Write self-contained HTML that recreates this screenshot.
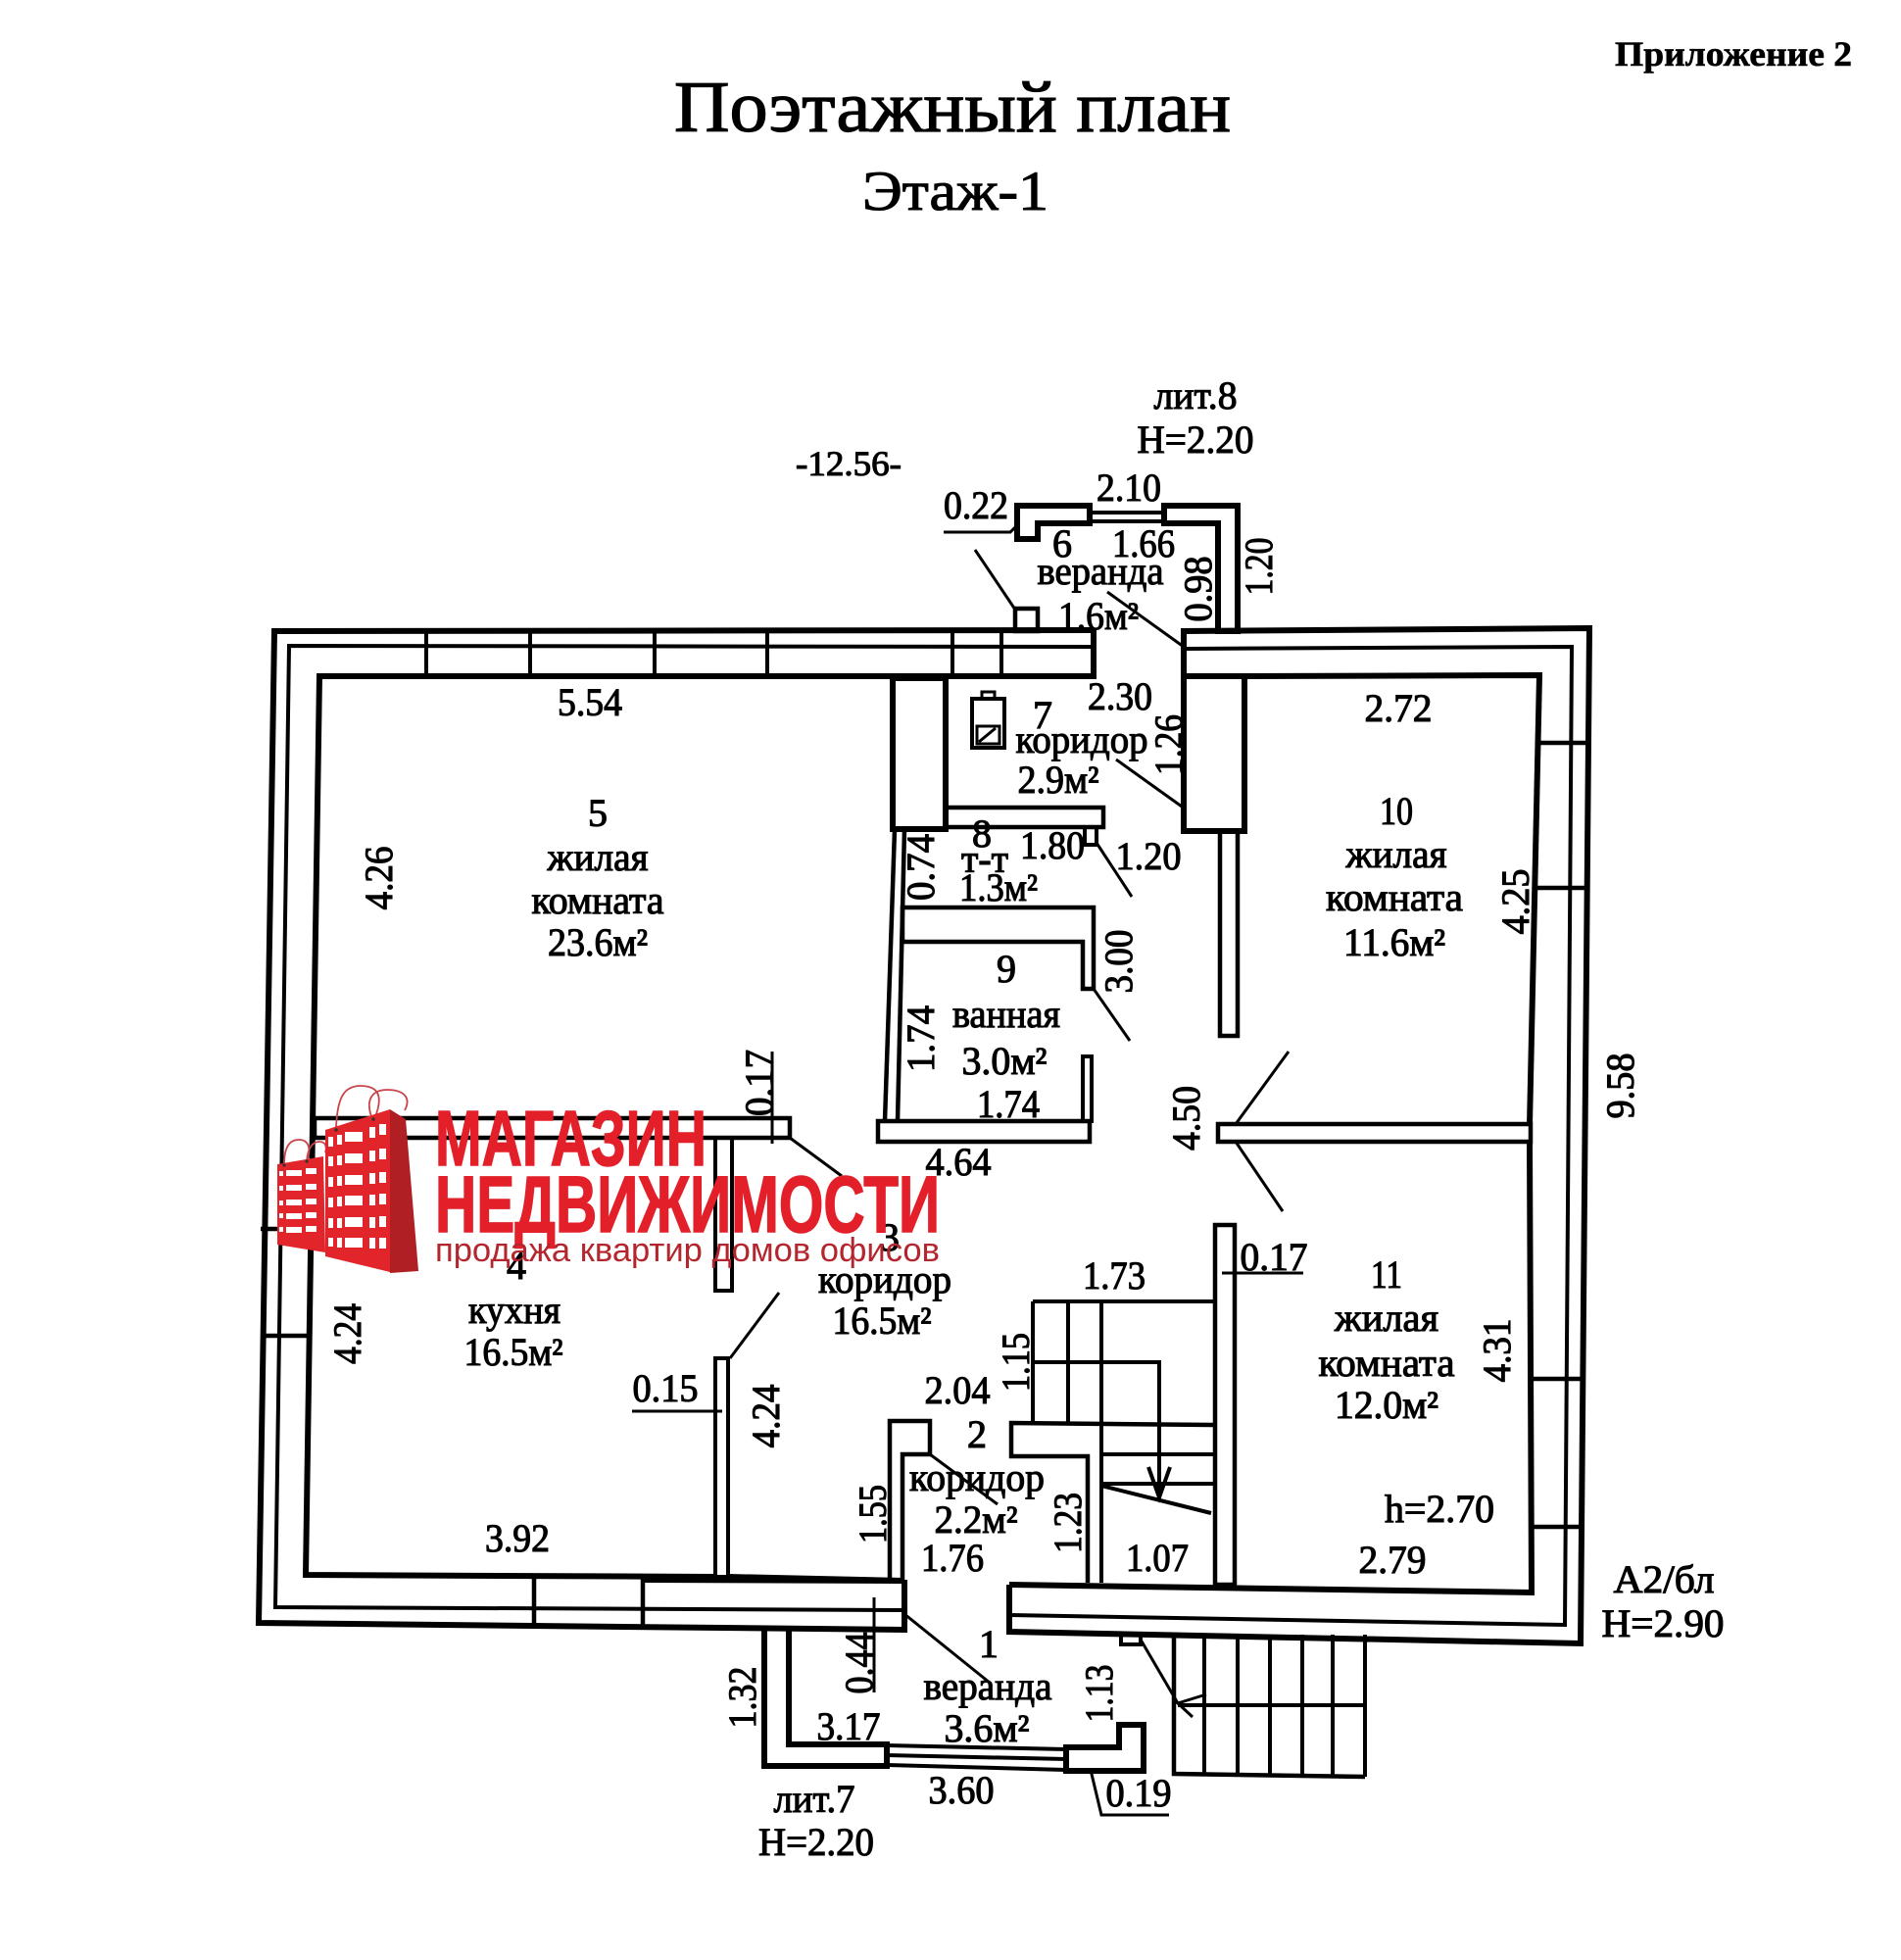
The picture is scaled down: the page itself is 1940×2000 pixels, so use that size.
<!DOCTYPE html>
<html><head><meta charset="utf-8"><style>
html,body{margin:0;padding:0;background:#fff}
svg{display:block}
.t{font-family:"Liberation Serif","Noto Serif CJK SC",serif;font-size:40px;fill:#000;stroke:#000;stroke-width:1.1px}
.w5{stroke:#000;stroke-width:6;fill:none;stroke-linejoin:miter}
.w4{stroke:#000;stroke-width:4.5;fill:none}
.w3{stroke:#000;stroke-width:4;fill:none}
.th{stroke:#000;stroke-width:3;fill:none}
</style></head><body>
<svg width="1940" height="2000" viewBox="0 0 1940 2000" xmlns="http://www.w3.org/2000/svg">
<rect width="1940" height="2000" fill="#fff"/>

<!-- Titles -->
<text class="t" x="1769" y="67" text-anchor="middle" font-weight="bold" style="font-size:36px;stroke-width:.6px" textLength="242" lengthAdjust="spacingAndGlyphs">Приложение 2</text>
<text class="t" x="972" y="134" text-anchor="middle" style="font-size:74px;stroke-width:1.2px" textLength="568" lengthAdjust="spacingAndGlyphs">Поэтажный план</text>
<text class="t" x="975" y="214" text-anchor="middle" style="font-size:57px;stroke-width:1.1px" textLength="190" lengthAdjust="spacingAndGlyphs">Этаж-1</text>
<text class="t" x="866" y="485" text-anchor="middle" style="font-size:36px" textLength="108" lengthAdjust="spacingAndGlyphs">-12.56-</text>

<!-- Outer walls -->
<path class="w5" d="M1116,643 L280,644 L264,1656 L923,1663 L923,1612"/>
<path class="w5" d="M1208,848 L1208,644 L1622,641 L1613,1677 L1030,1665 L1030,1617"/>
<path class="w3" d="M1116,660 L295,659 L281,1640 L923,1643"/>
<path class="w3" d="M1208,662 L1604,660 L1597,1658 L1030,1648"/>
<path class="w5" d="M1116,642 L1116,690 L326,690 L312,1607 L730,1609"/>
<path class="w5" d="M743,1609 L922,1613"/>
<path class="w5" d="M1270,690 L1571,689 L1561,1148"/>
<path class="w5" d="M1561,1165 L1563,1625 L1030,1617"/>
<!-- top wall dividers -->
<path class="w3" d="M435,642V692 M541,642V692 M668,642V692 M783,642V692 M972,642V692 M1022,642V692"/>
<!-- right wall windows -->
<path class="w4" d="M1571,758H1620 M1569,906H1619 M1562,1407H1616 M1563,1558H1615"/>
<!-- left wall window -->
<path class="w4" d="M266,1254H318 M266,1363H317"/>
<!-- bottom wall dividers -->
<path class="w4" d="M545,1608V1660 M656,1610V1661"/>
<path class="w5" d="M656,1612 L922,1613"/>

<!-- Interior partitions -->
<rect class="w5" x="911" y="692" width="54" height="154"/>
<rect class="w4" x="965" y="824" width="161" height="20"/>
<rect class="w3" x="1107" y="844" width="12" height="18"/>
<path class="w4" d="M913,846 L903,1144 M923,846 L916,1144"/>
<polygon class="w4" points="921,926 1116,926 1116,1009 1105,1009 1105,961 921,961"/>
<rect class="w3" x="1105" y="1078" width="9" height="66"/>
<rect class="w4" x="896" y="1144" width="216" height="21"/>
<rect class="w5" x="1208" y="690" width="62" height="158"/>
<rect class="w4" x="1245" y="848" width="18" height="209"/>
<rect class="w4" x="1243" y="1147" width="319" height="18"/>
<rect class="w4" x="1240" y="1250" width="20" height="367"/>
<rect class="w4" x="321" y="1141" width="485" height="20"/>
<rect class="w3" x="730" y="1161" width="17" height="156"/>
<rect class="w3" x="730" y="1386" width="13" height="223"/>
<polygon class="w4" points="908,1450 949,1450 949,1484 921,1484 921,1613 908,1613"/>

<!-- Stairs -->
<path class="w3" d="M1054,1328 H1238 M1054,1328 V1452 M1090,1328 V1452 M1124,1328 V1615"/>
<path class="w3" d="M1054,1390 H1183 V1528"/>
<path class="w3" d="M1172,1497 L1183,1528 L1194,1497"/>
<path class="w4" d="M1238,1454 L1032,1452 L1032,1486 L1110,1486 L1110,1615"/>
<path class="w3" d="M1124,1484 H1238 M1124,1514 H1238 M1124,1516 L1236,1544"/>

<!-- Veranda 6 (top) -->
<polygon class="w5" points="1038,516 1112,516 1112,534 1059,534 1059,550 1038,550"/>
<polygon class="w5" points="1188,516 1263,516 1263,644 1243,644 1243,534 1188,534"/>
<path class="w3" d="M1112,523 H1188 M1112,532 H1188"/>
<rect class="w4" x="1036" y="621" width="23" height="23"/>
<path class="th" d="M963,543 H1031 L1040,534"/>
<path class="th" d="M995,561 L1036,622"/>
<path class="th" d="M1130,604 L1208,660"/>

<!-- Boiler -->
<rect class="w3" x="992" y="713" width="33" height="50"/>
<rect class="th" x="1002" y="706" width="13" height="7"/>
<rect class="th" x="997" y="741" width="23" height="18"/>
<path class="th" d="M999,757 L1016,743"/>

<!-- Door swings / diagonals -->
<path class="th" d="M806,1161 L859,1200"/>
<path class="th" d="M745,1386 L795,1319"/>
<path class="th" d="M1139,775 L1206,823"/>
<path class="th" d="M1119,860 L1155,915"/>
<path class="th" d="M1116,1009 L1153,1062"/>
<path class="th" d="M1261,1147 L1315,1073"/>
<path class="th" d="M1261,1165 L1309,1236"/>
<path class="th" d="M949,1484 L1018,1535"/>
<path class="th" d="M788,1073 L788,1167"/>
<path class="th" d="M645,1440 H737"/>
<path class="th" d="M1247,1299 H1330"/>

<!-- Veranda 1 (bottom) -->
<path class="w5" d="M780,1663 L780,1802 L905,1802 L905,1780 L805,1780 L805,1663"/>
<path class="w3" d="M905,1781 L1088,1785 M905,1791 L1088,1795 M905,1801 L1088,1806"/>
<polygon class="w5" points="1088,1783 1142,1783 1142,1760 1167,1760 1167,1807 1088,1807"/>
<path class="th" d="M923,1647 L1010,1717"/>
<path class="th" d="M892,1630 L892,1727"/>
<path class="th" d="M1113,1806 L1124,1852 H1193"/>

<!-- Porch steps -->
<rect class="w3" x="1144" y="1667" width="20" height="11"/>
<path class="th" d="M1164,1673 L1202,1738"/>
<path class="th" d="M1231,1729 L1202,1738 L1217,1752"/>
<path class="w3" d="M1202,1740 H1393"/>
<path class="w4" d="M1198,1668 V1810 L1393,1813"/>
<path class="w3" d="M1229,1668V1811 M1263,1668V1811 M1296,1668V1812 M1329,1668V1812 M1360,1668V1812 M1393,1668V1813"/>

<!-- Horizontal labels -->
<g class="t" text-anchor="middle">
<text x="1220" y="417" textLength="85" lengthAdjust="spacingAndGlyphs">лит.8</text>
<text x="1220" y="462" textLength="119" lengthAdjust="spacingAndGlyphs">H=2.20</text>
<text x="1152" y="511" textLength="66" lengthAdjust="spacingAndGlyphs">2.10</text>
<text x="996" y="529" textLength="66" lengthAdjust="spacingAndGlyphs">0.22</text>
<text x="1084" y="568">6</text>
<text x="1167" y="568" textLength="64" lengthAdjust="spacingAndGlyphs">1.66</text>
<text x="1123" y="596" textLength="129" lengthAdjust="spacingAndGlyphs">веранда</text>
<text x="1121" y="642" textLength="82" lengthAdjust="spacingAndGlyphs">1.6м²</text>
<text x="602" y="730" textLength="66" lengthAdjust="spacingAndGlyphs">5.54</text>
<text x="610" y="843">5</text>
<text x="610" y="888" textLength="103" lengthAdjust="spacingAndGlyphs">жилая</text>
<text x="610" y="932" textLength="135" lengthAdjust="spacingAndGlyphs">комната</text>
<text x="610" y="975" textLength="102" lengthAdjust="spacingAndGlyphs">23.6м²</text>
<text x="1143" y="724" textLength="66" lengthAdjust="spacingAndGlyphs">2.30</text>
<text x="1064" y="743">7</text>
<text x="1104" y="768" textLength="135" lengthAdjust="spacingAndGlyphs">коридор</text>
<text x="1080" y="809" textLength="83" lengthAdjust="spacingAndGlyphs">2.9м²</text>
<text x="1427" y="736" textLength="69" lengthAdjust="spacingAndGlyphs">2.72</text>
<text x="1425" y="841" textLength="34" lengthAdjust="spacingAndGlyphs">10</text>
<text x="1425" y="885" textLength="103" lengthAdjust="spacingAndGlyphs">жилая</text>
<text x="1423" y="929" textLength="140" lengthAdjust="spacingAndGlyphs">комната</text>
<text x="1423" y="975" textLength="104" lengthAdjust="spacingAndGlyphs">11.6м²</text>
<text x="1002" y="864">8</text>
<text x="1005" y="890" textLength="48" lengthAdjust="spacingAndGlyphs">т-т</text>
<text x="1074" y="876" textLength="66" lengthAdjust="spacingAndGlyphs">1.80</text>
<text x="1172" y="887" textLength="67" lengthAdjust="spacingAndGlyphs">1.20</text>
<text x="1019" y="919" textLength="80" lengthAdjust="spacingAndGlyphs">1.3м²</text>
<text x="1027" y="1002">9</text>
<text x="1027" y="1048" textLength="110" lengthAdjust="spacingAndGlyphs">ванная</text>
<text x="1025" y="1096" textLength="87" lengthAdjust="spacingAndGlyphs">3.0м²</text>
<text x="1029" y="1140" textLength="64" lengthAdjust="spacingAndGlyphs">1.74</text>
<text x="978" y="1199" textLength="67" lengthAdjust="spacingAndGlyphs">4.64</text>
<text x="527" y="1305">4</text>
<text x="525" y="1350" textLength="94" lengthAdjust="spacingAndGlyphs">кухня</text>
<text x="524" y="1393" textLength="101" lengthAdjust="spacingAndGlyphs">16.5м²</text>
<text x="679" y="1430" textLength="67" lengthAdjust="spacingAndGlyphs">0.15</text>
<text x="528" y="1583" textLength="66" lengthAdjust="spacingAndGlyphs">3.92</text>
<text x="908" y="1276">3</text>
<text x="903" y="1319" textLength="136" lengthAdjust="spacingAndGlyphs">коридор</text>
<text x="900" y="1361" textLength="101" lengthAdjust="spacingAndGlyphs">16.5м²</text>
<text x="1300" y="1296" textLength="69" lengthAdjust="spacingAndGlyphs">0.17</text>
<text x="1415" y="1314" textLength="32" lengthAdjust="spacingAndGlyphs">11</text>
<text x="1415" y="1358" textLength="106" lengthAdjust="spacingAndGlyphs">жилая</text>
<text x="1415" y="1404" textLength="139" lengthAdjust="spacingAndGlyphs">комната</text>
<text x="1415" y="1447" textLength="106" lengthAdjust="spacingAndGlyphs">12.0м²</text>
<text x="1469" y="1553" textLength="112" lengthAdjust="spacingAndGlyphs">h=2.70</text>
<text x="1421" y="1605" textLength="69" lengthAdjust="spacingAndGlyphs">2.79</text>
<text x="1137" y="1315" textLength="64" lengthAdjust="spacingAndGlyphs">1.73</text>
<text x="977" y="1432" textLength="67" lengthAdjust="spacingAndGlyphs">2.04</text>
<text x="997" y="1477">2</text>
<text x="997" y="1521" textLength="138" lengthAdjust="spacingAndGlyphs">коридор</text>
<text x="996" y="1564" textLength="85" lengthAdjust="spacingAndGlyphs">2.2м²</text>
<text x="972" y="1603" textLength="64" lengthAdjust="spacingAndGlyphs">1.76</text>
<text x="1181" y="1603" textLength="64" lengthAdjust="spacingAndGlyphs">1.07</text>
<text x="1009" y="1691">1</text>
<text x="1008" y="1734" textLength="131" lengthAdjust="spacingAndGlyphs">веранда</text>
<text x="1007" y="1777" textLength="87" lengthAdjust="spacingAndGlyphs">3.6м²</text>
<text x="866" y="1775" textLength="65" lengthAdjust="spacingAndGlyphs">3.17</text>
<text x="981" y="1840" textLength="67" lengthAdjust="spacingAndGlyphs">3.60</text>
<text x="1162" y="1843" textLength="67" lengthAdjust="spacingAndGlyphs">0.19</text>
<text x="831" y="1849" textLength="83" lengthAdjust="spacingAndGlyphs">лит.7</text>
<text x="833" y="1893" textLength="118" lengthAdjust="spacingAndGlyphs">H=2.20</text>
<text x="1698" y="1625" textLength="103" lengthAdjust="spacingAndGlyphs">А2/бл</text>
<text x="1697" y="1670" textLength="125" lengthAdjust="spacingAndGlyphs">H=2.90</text>
</g>

<!-- Rotated labels -->
<g class="t" text-anchor="middle">
<text transform="translate(1298,578) rotate(-90)" textLength="59" lengthAdjust="spacingAndGlyphs">1.20</text>
<text transform="translate(1236,601) rotate(-90)" textLength="67" lengthAdjust="spacingAndGlyphs">0.98</text>
<text transform="translate(1206,760) rotate(-90)" textLength="62" lengthAdjust="spacingAndGlyphs">1.26</text>
<text transform="translate(400,896) rotate(-90)" textLength="65" lengthAdjust="spacingAndGlyphs">4.26</text>
<text transform="translate(953,885) rotate(-90)" textLength="68" lengthAdjust="spacingAndGlyphs">0.74</text>
<text transform="translate(1155,981) rotate(-90)" textLength="65" lengthAdjust="spacingAndGlyphs">3.00</text>
<text transform="translate(953,1060) rotate(-90)" textLength="68" lengthAdjust="spacingAndGlyphs">1.74</text>
<text transform="translate(1560,920) rotate(-90)" textLength="67" lengthAdjust="spacingAndGlyphs">4.25</text>
<text transform="translate(1667,1108) rotate(-90)" textLength="67" lengthAdjust="spacingAndGlyphs">9.58</text>
<text transform="translate(788,1105) rotate(-90)" textLength="68" lengthAdjust="spacingAndGlyphs">0.17</text>
<text transform="translate(1224,1141) rotate(-90)" textLength="66" lengthAdjust="spacingAndGlyphs">4.50</text>
<text transform="translate(368,1361) rotate(-90)" textLength="62" lengthAdjust="spacingAndGlyphs">4.24</text>
<text transform="translate(795,1445) rotate(-90)" textLength="65" lengthAdjust="spacingAndGlyphs">4.24</text>
<text transform="translate(1541,1378) rotate(-90)" textLength="65" lengthAdjust="spacingAndGlyphs">4.31</text>
<text transform="translate(1050,1390) rotate(-90)" textLength="60" lengthAdjust="spacingAndGlyphs">1.15</text>
<text transform="translate(904,1545) rotate(-90)" textLength="60" lengthAdjust="spacingAndGlyphs">1.55</text>
<text transform="translate(1103,1554) rotate(-90)" textLength="62" lengthAdjust="spacingAndGlyphs">1.23</text>
<text transform="translate(1135,1728) rotate(-90)" textLength="59" lengthAdjust="spacingAndGlyphs">1.13</text>
<text transform="translate(890,1697) rotate(-90)" textLength="63" lengthAdjust="spacingAndGlyphs">0.44</text>
<text transform="translate(771,1732) rotate(-90)" textLength="63" lengthAdjust="spacingAndGlyphs">1.32</text>
</g>

<!-- Logo -->
<g>
  <!-- handles -->
  <path d="M343,1152 C344,1118 352,1108 368,1108 C386,1108 392,1118 382,1142" stroke="#c8454b" stroke-width="1.8" fill="none"/>
  <path d="M380,1142 C372,1122 380,1112 395,1112 C412,1112 420,1120 413,1133" stroke="#c8454b" stroke-width="1.8" fill="none"/>
  <path d="M290,1188 C290,1170 296,1163 305,1163 C315,1163 318,1172 313,1185" stroke="#c8454b" stroke-width="1.8" fill="none"/>
  <path d="M313,1185 C314,1170 320,1165 326,1165 C332,1165 334,1170 332,1176" stroke="#c8454b" stroke-width="1.8" fill="none"/>
  <!-- small bag -->
  <polygon points="283,1188 330,1180 332,1278 283,1270" fill="#e2252b"/>
  <g fill="#fff">
    <rect x="285" y="1195" width="4" height="5"/><rect x="292" y="1194" width="16" height="6"/><rect x="312" y="1192" width="11" height="6"/>
    <rect x="285" y="1210" width="4" height="5"/><rect x="292" y="1209" width="16" height="6"/><rect x="312" y="1208" width="11" height="6"/>
    <rect x="285" y="1225" width="4" height="5"/><rect x="292" y="1224" width="16" height="6"/><rect x="312" y="1223" width="11" height="6"/>
    <rect x="285" y="1238" width="4" height="5"/><rect x="292" y="1238" width="16" height="6"/><rect x="312" y="1237" width="11" height="6"/>
    <rect x="285" y="1252" width="4" height="5"/><rect x="292" y="1252" width="16" height="6"/><rect x="312" y="1251" width="11" height="6"/>
  </g>
  <circle cx="290" cy="1189" r="1.6" fill="#333"/><circle cx="313" cy="1185" r="1.6" fill="#333"/>
  <!-- big bag -->
  <polygon points="332,1153 398,1132 398,1298 332,1282" fill="#e2252b"/>
  <polygon points="398,1132 414,1142 427,1297 398,1299" fill="#b01f24"/>
  <g fill="#fff">
    <rect x="335" y="1160" width="5" height="10"/><rect x="344" y="1158" width="5" height="10"/><rect x="352" y="1155" width="18" height="10"/><rect x="377" y="1150" width="6" height="11"/><rect x="387" y="1147" width="7" height="11"/>
    <rect x="335" y="1180" width="5" height="10"/><rect x="344" y="1179" width="5" height="10"/><rect x="352" y="1177" width="18" height="10"/><rect x="377" y="1174" width="6" height="11"/><rect x="387" y="1172" width="7" height="11"/>
    <rect x="335" y="1201" width="5" height="10"/><rect x="344" y="1200" width="5" height="10"/><rect x="352" y="1199" width="18" height="10"/><rect x="377" y="1197" width="6" height="11"/><rect x="387" y="1196" width="7" height="11"/>
    <rect x="335" y="1222" width="5" height="10"/><rect x="344" y="1221" width="5" height="10"/><rect x="352" y="1220" width="18" height="10"/><rect x="377" y="1219" width="6" height="11"/><rect x="387" y="1218" width="7" height="11"/>
    <rect x="335" y="1243" width="5" height="10"/><rect x="344" y="1243" width="5" height="10"/><rect x="352" y="1242" width="18" height="10"/><rect x="377" y="1242" width="6" height="11"/><rect x="387" y="1241" width="7" height="11"/>
    <rect x="335" y="1263" width="5" height="9"/><rect x="344" y="1263" width="5" height="10"/><rect x="352" y="1263" width="18" height="10"/><rect x="377" y="1263" width="6" height="11"/><rect x="387" y="1263" width="7" height="11"/>
  </g>
  <circle cx="343" cy="1153" r="1.8" fill="#333"/><circle cx="381" cy="1142" r="1.8" fill="#333"/>
  <text x="444" y="1189" font-family="Liberation Sans, sans-serif" font-weight="bold" font-size="80" fill="#e3202a" stroke="#e3202a" stroke-width="1.5" textLength="277" lengthAdjust="spacingAndGlyphs">МАГАЗИН</text>
  <text x="444" y="1257" font-family="Liberation Sans, sans-serif" font-weight="bold" font-size="82" fill="#e3202a" stroke="#e3202a" stroke-width="1.5" textLength="515" lengthAdjust="spacingAndGlyphs">НЕДВИЖИМОСТИ</text>
  <text x="444" y="1287" font-family="Liberation Sans, sans-serif" font-size="34" fill="#b3262e" textLength="515" lengthAdjust="spacingAndGlyphs">продажа  квартир  домов  офисов</text>
</g>
</svg>
</body></html>
